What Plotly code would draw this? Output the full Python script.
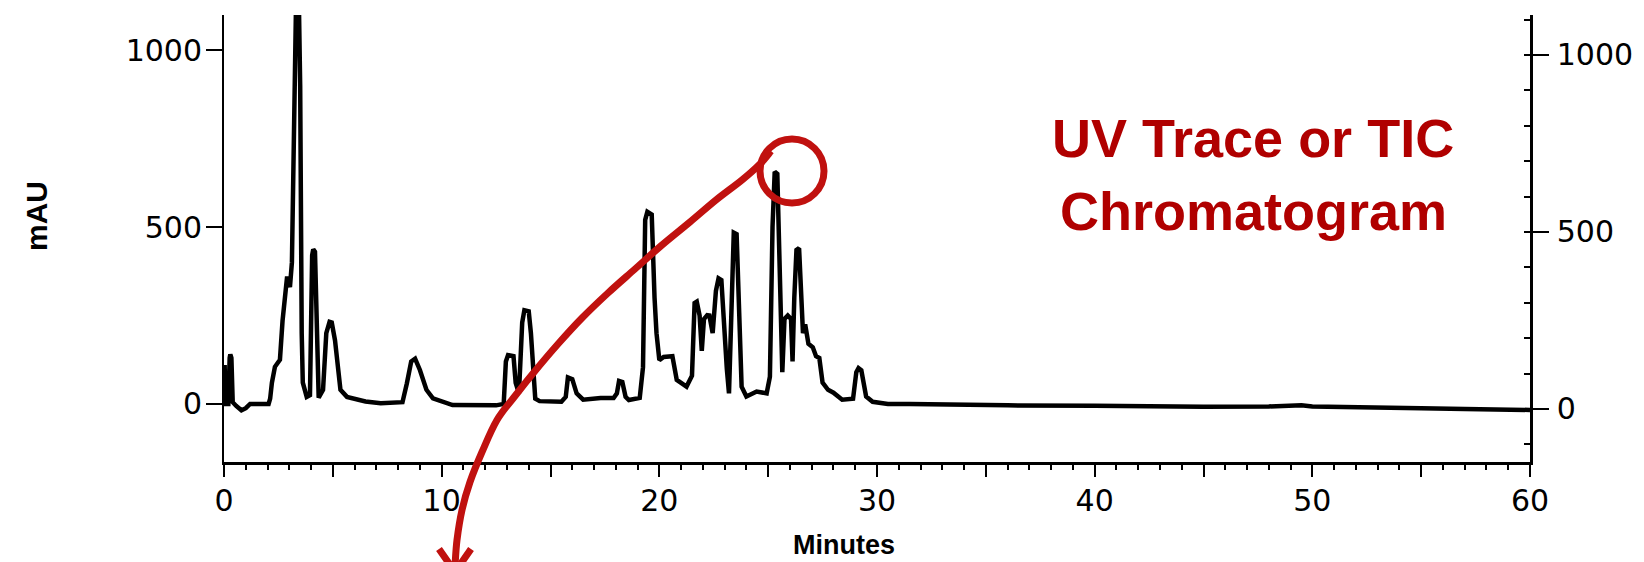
import plotly.graph_objects as go

# ---------------- data ----------------
minutes = [0.0, 0.03, 0.06, 0.1, 0.2, 0.26, 0.29, 0.34, 0.4, 0.55, 0.8, 1.0, 1.2, 2.05, 2.12, 2.2,
           2.34, 2.57, 2.69, 2.9, 3.03, 3.12, 3.2, 3.25, 3.3, 3.45, 3.5, 3.57, 3.62, 3.8, 3.95,
           4.05, 4.1, 4.18, 4.26, 4.35, 4.55, 4.7, 4.85, 4.95, 5.1, 5.2, 5.35, 5.65, 6.5, 7.2, 8.2,
           8.4, 8.6, 8.78, 9.0, 9.3, 9.6, 10.5, 11.5, 12.5, 12.85, 12.95, 13.05, 13.3, 13.4, 13.55,
           13.7, 13.8, 14.0, 14.1, 14.3, 14.5, 15.5, 15.7, 15.8, 16.0, 16.2, 16.5, 17.3, 17.9, 18.05,
           18.15, 18.3, 18.45, 18.6, 19.1, 19.25, 19.35, 19.45, 19.65, 19.78, 19.87, 20.0, 20.2, 20.6,
           20.8, 21.25, 21.5, 21.62, 21.72, 21.85, 21.95, 22.05, 22.2, 22.3, 22.45, 22.6, 22.72, 22.85,
           22.98, 23.1, 23.2, 23.32, 23.42, 23.55, 23.65, 23.78, 24.0, 24.47, 24.93, 25.08, 25.2, 25.3,
           25.42, 25.55, 25.65, 25.75, 25.9, 26.05, 26.12, 26.2, 26.3, 26.42, 26.5, 26.6, 26.7, 26.85,
           27.05, 27.2, 27.35, 27.5, 27.75, 28.0, 28.4, 28.9, 29.05, 29.15, 29.28, 29.5, 29.8, 30.5,
           31.5, 33, 36, 40, 43, 45, 48, 49.5, 50, 52, 55, 57, 58, 60]
mau = [0, 110, 0, 0, 0, 130, 140, 130, 5, -5, -18, -12, 0, 0, 15, 60,
       105, 125, 235, 360, 330, 400, 800, 1095, 1095, 1095, 900, 200, 60, 20, 25,
       420, 437, 430, 150, 18, 40, 200, 232, 230, 180, 110, 40, 20, 7, 2, 5,
       58, 120, 128, 96, 40, 16, -3, -5, -4, 0, 120, 138, 135, 60, 30,
       230, 265, 262, 200, 15, 8, 6, 20, 75, 70, 30, 12, 17, 17, 30,
       65, 62, 20, 11, 17, 104, 520, 543, 535, 300, 200, 124, 133, 135,
       68, 49, 80, 285, 289, 250, 150, 240, 251, 250, 200, 320, 355, 350,
       200, 100, 30, 300, 484, 480, 300, 49, 21, 35, 30, 77, 500, 656,
       650, 300, 90, 240, 250, 240, 120, 300, 435, 440, 300, 200, 225, 170,
       160, 135, 130, 60, 40, 32, 12, 15, 90, 101, 95, 21, 6, 0,
       0, -2, -4, -5, -7, -8, -7, -4, -7, -10, -12, -14, -16, -17]

x_tick_vals = [0, 5, 10, 15, 20, 25, 30, 35, 40, 45, 50, 55, 60]
x_tick_text = ["0", "", "10", "", "20", "", "30", "", "40", "", "50", "", "60"]
y_tick_vals = [0, 500, 1000]
y_tick_text = ["0", "500", "1000"]

title_lines = ["UV Trace or TIC", "Chromatogram"]
x_title = "Minutes"
y_title = "mAU"

# ---------------- layout geometry ----------------
W, H = 1644, 562
L, R, T, B = 224, 114, 15, 100
PW, PH = W - L - R, H - T - B
X_RANGE = [0, 60]
Y_RANGE = [-164, 1099]
Y2_RANGE = [-150, 1113]


def px(x):
    return (x - L) / PW


def py(y):
    return (H - B - y) / PH


RED = "#C0110F"
TEXT_RED = "#B00000"

fig = go.Figure()
fig.add_trace(go.Scatter(x=minutes, y=mau, mode="lines",
                         line=dict(color="black", width=4.5), showlegend=False,
                         hoverinfo="skip"))
# invisible trace to activate right axis
fig.add_trace(go.Scatter(x=[None], y=[None], yaxis="y2", showlegend=False))

tickfont = dict(family="DejaVu Sans", size=30, color="black")

fig.update_layout(
    width=W, height=H,
    margin=dict(l=L, r=R, t=T, b=B, pad=0),
    paper_bgcolor="white", plot_bgcolor="white",
    xaxis=dict(range=X_RANGE, showgrid=False, zeroline=False, showline=True,
               linecolor="black", linewidth=2.5, ticks="outside", ticklen=12,
               tickwidth=2, tickcolor="black", tickvals=x_tick_vals, ticktext=x_tick_text,
               tickfont=tickfont, ticklabelstandoff=-2,
               minor=dict(dtick=1, ticks="outside", ticklen=5, tickwidth=1.5,
                          tickcolor="black", showgrid=False)),
    yaxis=dict(range=Y_RANGE, showgrid=False, zeroline=False, showline=True,
               linecolor="black", linewidth=2, ticks="outside", ticklen=16,
               tickwidth=2, tickcolor="black", tickvals=y_tick_vals, ticktext=y_tick_text,
               tickfont=tickfont, ticklabelstandoff=-2),
    yaxis2=dict(range=Y2_RANGE, overlaying="y", side="right", showgrid=False,
                zeroline=False, showline=True, linecolor="black", linewidth=2.5,
                ticks="outside", ticklen=16, tickwidth=2, tickcolor="black",
                tickvals=y_tick_vals, ticktext=y_tick_text, tickfont=tickfont,
                ticklabelstandoff=2,
                minor=dict(dtick=100, ticks="inside", ticklen=6, tickwidth=1.5,
                           tickcolor="black", showgrid=False)),
)

annotations = [
    dict(text="<b>" + y_title + "</b>", x=px(36), y=py(216), xref="paper", yref="paper",
         showarrow=False, textangle=-90,
         font=dict(family="Liberation Sans", size=30, color="black"),
         xanchor="center", yanchor="middle"),
    dict(text="<b>" + x_title + "</b>", x=px(844), y=py(545), xref="paper", yref="paper",
         showarrow=False, font=dict(family="Liberation Sans", size=27, color="black"),
         xanchor="center", yanchor="middle"),
]
for line_text, cy in zip(title_lines, [138, 211]):
    annotations.append(dict(text="<b>" + line_text + "</b>", x=px(1253), y=py(cy),
                            xref="paper", yref="paper", showarrow=False,
                            font=dict(family="Liberation Sans", size=54, color=TEXT_RED),
                            xanchor="center", yanchor="middle"))
fig.update_layout(annotations=annotations)

# ---------------- red arrow annotation (pixel guide points) ----------------
ARROW_PTS = [(455, 566), (457, 540), (462, 510), (470, 482), (482, 452), (497, 420),
             (515, 396), (535, 371), (558, 344), (582, 318), (608, 293), (635, 269),
             (662, 245), (690, 222), (716, 200), (742, 180), (760, 164), (771, 151)]


def catmull_path(pts):
    P = [(px(x), py(y)) for x, y in pts]
    d = "M {:.5f},{:.5f}".format(*P[0])
    for i in range(len(P) - 1):
        p0 = P[i - 1] if i > 0 else P[i]
        p1, p2 = P[i], P[i + 1]
        p3 = P[i + 2] if i + 2 < len(P) else P[i + 1]
        c1 = (p1[0] + (p2[0] - p0[0]) / 6, p1[1] + (p2[1] - p0[1]) / 6)
        c2 = (p2[0] - (p3[0] - p1[0]) / 6, p2[1] - (p3[1] - p1[1]) / 6)
        d += " C {:.5f},{:.5f} {:.5f},{:.5f} {:.5f},{:.5f}".format(*c1, *c2, *p2)
    return d


shapes = [
    dict(type="path", xref="paper", yref="paper", path=catmull_path(ARROW_PTS),
         line=dict(color=RED, width=7), layer="above"),
    dict(type="circle", xref="paper", yref="paper",
         x0=px(792 - 32), x1=px(792 + 32), y0=py(171 + 32), y1=py(171 - 32),
         line=dict(color=RED, width=7), layer="above"),
    dict(type="path", xref="paper", yref="paper",
         path="M {:.5f},{:.5f} L {:.5f},{:.5f} L {:.5f},{:.5f}".format(
             px(439), py(549), px(455), py(572), px(471), py(549)),
         line=dict(color=RED, width=7), layer="above"),
]
fig.update_layout(shapes=shapes)

fig.write_html("out.html", config={"displayModeBar": False},
               post_script="document.body.style.margin='0';document.body.style.overflow='hidden';")
